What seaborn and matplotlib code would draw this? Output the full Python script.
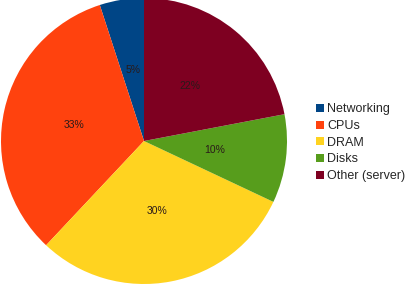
import matplotlib
matplotlib.use("Agg")
import matplotlib.pyplot as plt
import seaborn as sns
from matplotlib.patches import Patch

sns.set_style("white")
plt.rcParams['font.family'] = ['Liberation Sans', 'DejaVu Sans']

categories = ["Networking", "CPUs", "DRAM", "Disks", "Other (server)"]
values = [5, 33, 30, 10, 22]
color_hex = ["#004586", "#ff420e", "#ffd320", "#579d1c", "#7e0021"]
colors = sns.color_palette(color_hex)

W, H = 405, 284
fig = plt.figure(figsize=(W / 100, H / 100), dpi=100)
fig.patch.set_facecolor("white")

r = 143
cx, cy = 144, 284 - 141
ax = fig.add_axes([(cx - r) / W, (cy - r) / H, 2 * r / W, 2 * r / H])
wedges, texts, autotexts = ax.pie(
    values, colors=colors, startangle=90, counterclock=True,
    autopct=lambda p: f"{p:.0f}%", pctdistance=0.5, radius=1.0,
    wedgeprops=dict(linewidth=0),
    textprops=dict(fontsize=7.5, color="#2a1a1a"))
ax.set_xlim(-1, 1)
ax.set_ylim(-1, 1)
ax.set_aspect("equal")
ax.axis("off")

handles = [Patch(facecolor=c, edgecolor="none") for c in colors]
fig.legend(handles, categories, loc="upper left",
           bbox_to_anchor=(310 / W, 1 - 97 / H), frameon=False,
           fontsize=9, handlelength=0.6, handleheight=0.6,
           handletextpad=0.25, labelspacing=0.38, borderpad=0)

fig.savefig("out.png", dpi=100, facecolor="white")
